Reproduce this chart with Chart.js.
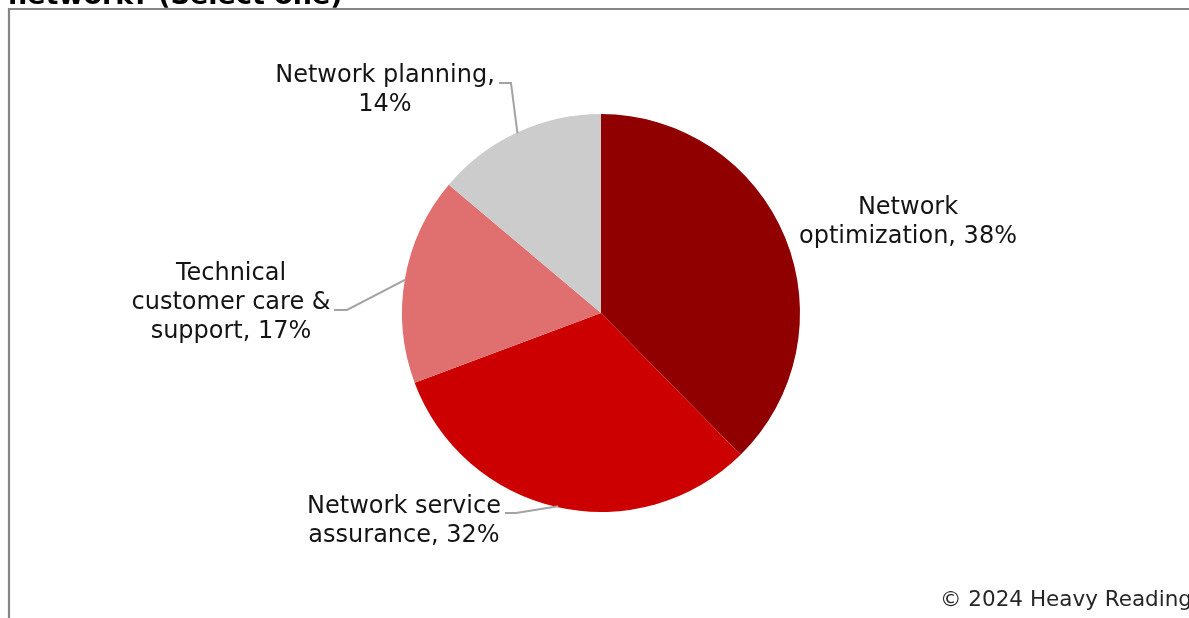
<!DOCTYPE html>
<html>
<head>
<meta charset="utf-8">
<script src="https://cdn.jsdelivr.net/npm/chart.js@4.4.1/dist/chart.umd.min.js"></script>
<style>
  html, body { margin: 0; padding: 0; background: #ffffff; }
  #wrap { width: 1189px; height: 618px; position: relative; overflow: hidden; }
  canvas { display: block; }
</style>
</head>
<body>
<div id="wrap"><canvas id="chart" width="1189" height="618"></canvas></div>
<script>
// Survey answers (share of respondents, %)
const categories = [
  'Network optimization',
  'Network service assurance',
  'Technical customer care & support',
  'Network planning'
];
const shares = [38, 32, 17, 14];
const sliceColors = ['#900000', '#cc0000', '#e06f6f', '#cccccc'];

// Label text, wrapped the way it is printed beside each slice
const labelLines = [
  ['Network', 'optimization, 38%'],
  ['Network service', 'assurance, 32%'],
  ['Technical', 'customer care &', 'support, 17%'],
  ['Network planning,', '14%']
];

const titleText = 'network? (Select one)';
const sourceText = '\u00A9 2024 Heavy Reading';

// Placement of each label block (centre x, first line y) and its leader hook
const labelLayout = [
  { x: 908, y: 208, leader: null },
  { x: 404, y: 507, leader: { x: 505, y: 513, elbow: 11 } },
  { x: 231, y: 274, leader: { x: 334, y: 310, elbow: 13 } },
  { x: 385, y: 76,  leader: { x: 499, y: 83,  elbow: 12 } }
];

const FONT = '"DejaVu Sans", Verdana, sans-serif';

const decorations = {
  id: 'decorations',
  afterDraw(chart) {
    const ctx = chart.ctx;
    const meta = chart.getDatasetMeta(0);
    ctx.save();

    // frame of the figure
    ctx.strokeStyle = '#868686';
    ctx.lineWidth = 2.2;
    ctx.beginPath();
    ctx.moveTo(9, 700);
    ctx.lineTo(9, 9);
    ctx.lineTo(1300, 9);
    ctx.stroke();

    // title (last line)
    ctx.fillStyle = '#000000';
    ctx.font = 'bold 27px ' + FONT;
    ctx.textAlign = 'left';
    ctx.textBaseline = 'alphabetic';
    ctx.fillText(titleText, 8, 4);

    // leader lines from slice edge to label
    ctx.strokeStyle = '#a3a3a3';
    ctx.lineWidth = 2;
    meta.data.forEach((arc, i) => {
      const lay = labelLayout[i];
      if (!lay.leader) return;
      const mid = (arc.startAngle + arc.endAngle) / 2;
      const r = arc.outerRadius - 1;
      const ex = arc.x + Math.cos(mid) * r;
      const ey = arc.y + Math.sin(mid) * r;
      ctx.beginPath();
      ctx.moveTo(lay.leader.x, lay.leader.y);
      ctx.lineTo(lay.leader.x + lay.leader.elbow, lay.leader.y);
      ctx.lineTo(ex, ey);
      ctx.stroke();
    });

    // data labels
    ctx.fillStyle = '#141414';
    ctx.font = '24px ' + FONT;
    ctx.textAlign = 'center';
    ctx.textBaseline = 'middle';
    labelLines.forEach((lines, i) => {
      const lay = labelLayout[i];
      lines.forEach((t, k) => ctx.fillText(t, lay.x, lay.y + k * 28.8));
    });

    // source note
    ctx.fillStyle = '#262626';
    ctx.font = '21.5px ' + FONT;
    ctx.textAlign = 'left';
    ctx.textBaseline = 'alphabetic';
    ctx.fillText(sourceText, 940, 606);

    ctx.restore();
  }
};

new Chart(document.getElementById('chart'), {
  type: 'pie',
  data: {
    labels: categories,
    datasets: [{
      data: shares,
      backgroundColor: sliceColors,
      borderWidth: 0
    }]
  },
  options: {
    responsive: false,
    animation: false,
    layout: { padding: { left: 402, right: 389, top: 114, bottom: 106 } },
    plugins: {
      legend: { display: false },
      tooltip: { enabled: false }
    }
  },
  plugins: [decorations]
});
</script>
</body>
</html>
